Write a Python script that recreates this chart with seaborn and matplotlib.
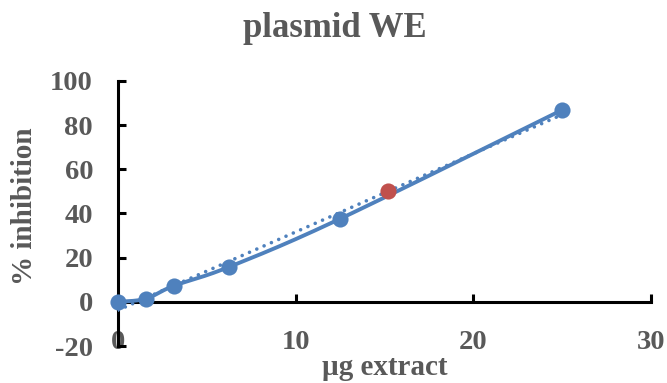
import numpy as np
import pandas as pd
import matplotlib
matplotlib.use("Agg")
import matplotlib.pyplot as plt
import seaborn as sns

# ---------------------------
# Data
# ---------------------------
ug_extract = [0, 1.5625, 3.125, 6.25, 12.5, 25]
pct_inhibition = [0, 1.4, 7.2, 15.8, 37.6, 86.9]
ic50_x = [15.2]
ic50_y = [50]
x_ticks = [0, 10, 20, 30]
y_ticks = [-20, 0, 20, 40, 60, 80, 100]

BLUE = "#4F81BD"
RED = "#C0504D"
GREY = "#595959"

sns.set_theme(style="white")
plt.rcParams["font.family"] = ["Liberation Serif", "DejaVu Serif"]
plt.rcParams["font.weight"] = "bold"
plt.rcParams["axes.unicode_minus"] = False


def _smooth(xs, ys, n=30):
    # Excel-style smoothed line: cubic Bezier through the points
    xs = np.asarray(xs, float)
    ys = np.asarray(ys, float)
    px, py = [], []
    for i in range(len(xs) - 1):
        i0 = max(i - 1, 0)
        i3 = min(i + 2, len(xs) - 1)
        c1x = xs[i] + (xs[i + 1] - xs[i0]) / 6
        c1y = ys[i] + (ys[i + 1] - ys[i0]) / 6
        c2x = xs[i + 1] - (xs[i3] - xs[i]) / 6
        c2y = ys[i + 1] - (ys[i3] - ys[i]) / 6
        t = np.linspace(0, 1, n)
        b0, b1, b2, b3 = (1 - t) ** 3, 3 * t * (1 - t) ** 2, 3 * t ** 2 * (1 - t), t ** 3
        px.extend(b0 * xs[i] + b1 * c1x + b2 * c2x + b3 * xs[i + 1])
        py.extend(b0 * ys[i] + b1 * c1y + b2 * c2y + b3 * ys[i + 1])
    return np.array(px), np.array(py)


df = pd.DataFrame({"ug": ug_extract, "inh": pct_inhibition})

fig = plt.figure(figsize=(6.67, 3.83), dpi=100)
ax = fig.add_axes([118 / 667, 1 - 346 / 383, 533 / 667, 265 / 383])

# smoothed series line
sx, sy = _smooth(ug_extract, pct_inhibition)
ax.plot(sx, sy, color=BLUE, lw=2.8, solid_capstyle="round", zorder=3, clip_on=False)

# linear trendline (dotted)
sns.regplot(data=df, x="ug", y="inh", ax=ax, scatter=False, ci=None, truncate=True,
            line_kws=dict(color=BLUE, lw=2.6, linestyle=(0, (0.01, 2.2)),
                          dash_capstyle="round", zorder=4))

sns.scatterplot(data=df, x="ug", y="inh", ax=ax, color=BLUE, s=135,
                edgecolor=BLUE, linewidth=0, zorder=5, clip_on=False)
ax.scatter(ic50_x, ic50_y, color=RED, s=135, linewidths=0, zorder=6)

ax.set_xlim(0, 30)
ax.set_ylim(-20, 100)
ax.set_xticks(x_ticks)
ax.set_yticks(y_ticks)
ax.set_xlabel("")
ax.set_ylabel("")

for s in ["top", "right"]:
    ax.spines[s].set_visible(False)
ax.spines["bottom"].set_position(("data", 0))
for s in ["left", "bottom"]:
    ax.spines[s].set_color("black")
    ax.spines[s].set_linewidth(2.2)

ax.tick_params(axis="x", bottom=True, direction="in", length=6, width=2.2, color="black",
               pad=20, labelsize=20.5, labelcolor=GREY)
ax.tick_params(axis="y", left=True, direction="in", length=6, width=2.2, color="black",
               pad=18, labelsize=20.5, labelcolor=GREY)
for lab in ax.get_xticklabels() + ax.get_yticklabels():
    lab.set_fontweight("bold")

fig.text(335 / 667, 1 - 37 / 383, "plasmid WE", ha="center", va="baseline",
         fontsize=25, fontweight="bold", color=GREY)
fig.text(385 / 667, 1 - 375 / 383, "µg extract", ha="center", va="baseline",
         fontsize=21, fontweight="bold", color=GREY)
fig.text(25 / 667, 1 - 206 / 383, "% inhibition", ha="center", va="center",
         rotation=90, fontsize=21, fontweight="bold", color=GREY)

fig.savefig("out.png", dpi=100, facecolor="white")
